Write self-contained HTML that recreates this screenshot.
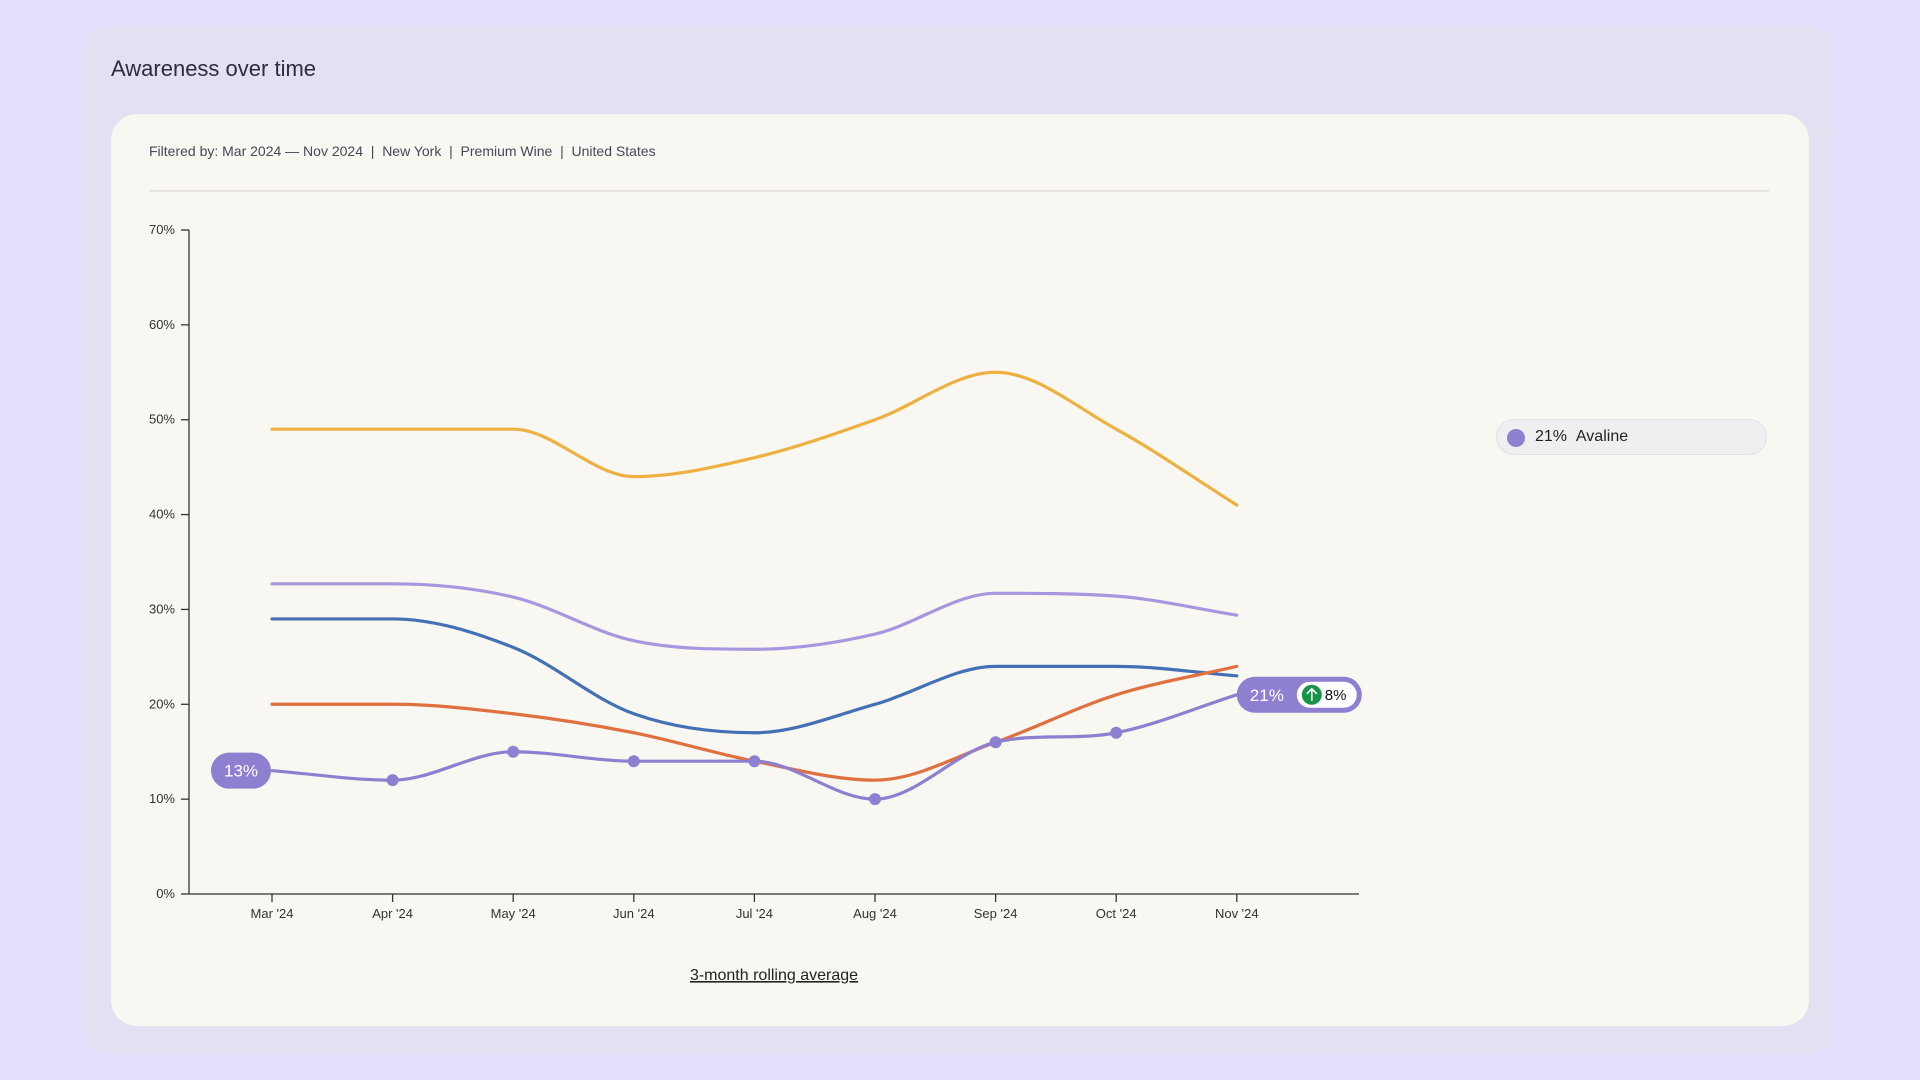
<!DOCTYPE html>
<html><head><meta charset="utf-8"><style>
body{margin:0;width:1920px;height:1080px;background:#E5DEFA;font-family:"Liberation Sans",sans-serif;overflow:hidden;position:relative}
.panel{position:absolute;left:83px;top:27px;width:1751px;height:1026px;background:#E3E0F1;border-radius:28px}
.title{position:absolute;left:111px;top:56px;font-size:22px;color:#2e2a40}
.card{position:absolute;left:111px;top:114px;width:1698px;height:912px;background:#F9F7F1;border-radius:26px}
.filter{position:absolute;left:149px;top:143px;font-size:14px;color:#4a4658}
.divider{position:absolute;left:149px;top:190px;width:1620px;height:2px;background:#E8E5E0}
.legend{position:absolute;left:1496px;top:419px;width:271px;height:36px;border:1px solid #e2e0e6;background:#EFEEF0;border-radius:19px;box-sizing:border-box;font-size:16px;color:#222}
.legend .dot{position:absolute;left:10px;top:9px;width:18px;height:18px;border-radius:50%;background:#8E7FD0}
.legend .t{position:absolute;left:38px;top:8px}
svg{position:absolute;left:0;top:0}
</style></head><body>
<div class="panel"></div>
<div class="title">Awareness over time</div>
<div class="card"></div>
<div class="filter">Filtered by: Mar 2024 — Nov 2024 &nbsp;|&nbsp; New York &nbsp;|&nbsp; Premium Wine &nbsp;|&nbsp; United States</div>
<div class="divider"></div>
<div class="legend"><div class="dot"></div><div class="t"><b style="font-weight:normal">21%</b>&nbsp;&nbsp;Avaline</div></div>
<svg id="chart" width="1920" height="1080"></svg>
<script>
const categories=["Mar '24","Apr '24","May '24","Jun '24","Jul '24","Aug '24","Sep '24","Oct '24","Nov '24"];
const yTicks=[0,10,20,30,40,50,60,70];
const seriesYellow=[49,49,49,44,46,50,55,49,41];
const seriesLavender=[32.7,32.7,31.3,26.7,25.8,27.4,31.7,31.4,29.4];
const seriesBlue=[29,29,26,19,17,20,24,24,23];
const seriesOrange=[20,20,19,17,14,12,16,21,24];
const seriesAvaline=[13,12,15,14,14,10,16,17,21];
const NS="http://www.w3.org/2000/svg";
const svg=document.getElementById('chart');
const x0=272,xStep=120.6,yBase=894,yTop=230;
const xs=i=>x0+i*xStep;
const ys=v=>yBase-(v/70)*(yBase-yTop);
function el(t,a,p){const e=document.createElementNS(NS,t);for(const k in a)e.setAttribute(k,a[k]);(p||svg).appendChild(e);return e;}
// axes
const yAxis=el('line',{x1:189,y1:230,x2:189,y2:894,stroke:'#333','stroke-width':1.3});


const xAxis=el('line',{x1:189,y1:894,x2:1359,y2:894,stroke:'#333','stroke-width':1.3});


yTicks.forEach(v=>{
  el('line',{x1:181,x2:189,y1:ys(v),y2:ys(v),stroke:'#333','stroke-width':1.3});
  const t=el('text',{x:175,y:ys(v)+4,'text-anchor':'end','font-size':13,fill:'#333'});
  t.textContent=v+'%';
  
  
});
categories.forEach((c,i)=>{
  el('line',{x1:xs(i),x2:xs(i),y1:894,y2:902,stroke:'#333','stroke-width':1.3});
  const t=el('text',{x:xs(i),y:918,'text-anchor':'middle','font-size':13,fill:'#333'});
  t.textContent=c;
  
  
});
const xt=el('text',{x:774,y:980,'text-anchor':'middle','font-size':16,fill:'#222','text-decoration':'underline'});
xt.textContent='3-month rolling average';


// monotone X curve
function monoPath(vals){
  const px=vals.map((v,i)=>xs(i)),py=vals.map(ys),n=vals.length;
  const d=[],m=[];
  for(let i=0;i<n-1;i++)d.push((py[i+1]-py[i])/(px[i+1]-px[i]));
  for(let i=0;i<n;i++){
    if(i===0)m.push(d[0]);else if(i===n-1)m.push(d[n-2]);
    else{ if(d[i-1]*d[i]<=0)m.push(0); else{const h=xStep;m.push((d[i-1]*h+d[i]*h)/(2*h)); const s=Math.min(Math.abs(d[i-1]),Math.abs(d[i]))*3; if(Math.abs(m[i])>s)m[i]=Math.sign(m[i])*s;} }
  }
  let p='M'+px[0]+','+py[0];
  for(let i=0;i<n-1;i++){const h=(px[i+1]-px[i])/3;p+=' C'+(px[i]+h)+','+(py[i]+m[i]*h)+' '+(px[i+1]-h)+','+(py[i+1]-m[i+1]*h)+' '+px[i+1]+','+py[i+1];}
  return p;
}
function line(vals,color,name){
  const p=el('path',{d:monoPath(vals),fill:'none',stroke:color,'stroke-width':3.2,'stroke-linecap':'round'});
  
  
}
line(seriesYellow,'#EFB042','line-yellow-brand');
line(seriesLavender,'#A996E0','line-lavender-brand');
line(seriesBlue,'#4470B5','line-blue-brand');
line(seriesOrange,'#E07040','line-orange-brand');
line(seriesAvaline,'#8E7FD0','line-avaline');
seriesAvaline.forEach((v,i)=>{
  if(i===0||i===seriesAvaline.length-1)return;
  const c=el('circle',{cx:xs(i),cy:ys(v),r:6,fill:'#8E7FD0'});
  
  
});
// start badge
const sv=seriesAvaline[0];
const g1=el('g',{});


el('rect',{x:211,y:ys(sv)-18,width:60,height:36,rx:18,fill:'#8E7FD0'},g1);
const t1=el('text',{x:241,y:ys(sv)+6,'text-anchor':'middle','font-size':17,fill:'#fff'},g1);t1.textContent=sv+'%';
// end badge
const ev=seriesAvaline[seriesAvaline.length-1],ex=xs(8);
const g2=el('g',{});


el('rect',{x:ex,y:ys(ev)-18,width:125,height:36,rx:18,fill:'#8E7FD0'},g2);
const t2=el('text',{x:ex+30,y:ys(ev)+6,'text-anchor':'middle','font-size':17,fill:'#fff'},g2);t2.textContent=ev+'%';
el('rect',{x:ex+60,y:ys(ev)-13,width:60,height:26,rx:13,fill:'#fff'},g2);
el('circle',{cx:ex+75,cy:ys(ev),r:10,fill:'#17934A'},g2);
el('path',{d:`M${ex+75},${ys(ev)+6} V${ys(ev)-6} M${ex+70},${ys(ev)-1} L${ex+75},${ys(ev)-6} L${ex+80},${ys(ev)-1}`,stroke:'#fff','stroke-width':1.6,fill:'none'},g2);
const t3=el('text',{x:ex+88,y:ys(ev)+5,'font-size':15,fill:'#111'},g2);t3.textContent=(ev-sv)+'%';
</script>
</body></html>
